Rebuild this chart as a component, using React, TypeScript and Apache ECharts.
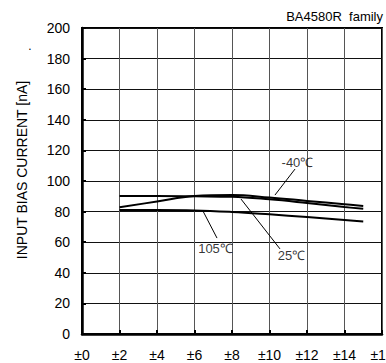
import React, { useEffect, useRef } from "react";
import * as echarts from "echarts";

const xTicks = [0, 2, 4, 6, 8, 10, 12, 14, 16];
const supplyV = [2, 4, 6, 8, 10, 12, 14, 15];
const minus40 = [82.8, 86.6, 90.2, 90.9, 89.2, 87.0, 84.8, 83.7];
const t25 = [90.2, 90.2, 90.0, 89.7, 88.0, 85.6, 83.0, 81.8];
const t105 = [81.0, 81.0, 80.8, 79.8, 78.2, 76.4, 74.5, 73.6];

const labelNames = ["-40℃", "105℃", "25℃"];
const labelPos = [
  [11.49, 111.8],
  [7.12, 55.6],
  [11.17, 51.6],
];
const leaders = [
  [[11.36, 107.8], [10.29, 90.8]],
  [[6.45, 80.4], [7.2, 62.7]],
  [[8.48, 88.2], [10.56, 55.6]],
];

const FONT = "'Liberation Sans', Arial, sans-serif";

export default function App() {
  const ref = useRef<HTMLDivElement>(null);
  useEffect(() => {
    if (!ref.current) return;
    const chart = echarts.init(ref.current, undefined, { renderer: "svg" });
    const curve = (name: string, vals: number[]) => ({
      name,
      type: "line",
      data: supplyV.map((x, i) => [x, vals[i]]),
      smooth: 0.4,
      showSymbol: false,
      symbol: "none",
      lineStyle: { color: "#000", width: 2 },
      silent: true,
      z: 5,
    });
    chart.setOption({
      animation: false,
      backgroundColor: "#fff",
      grid: {
        left: 82,
        right: 4,
        top: 28,
        bottom: 29,
        show: true,
        borderColor: "#000",
        borderWidth: 2,
        backgroundColor: "transparent",
        outerBoundsMode: "none",
        containLabel: false,
      },
      xAxis: {
        type: "value",
        min: 0,
        max: 16,
        interval: 2,
        axisLine: { show: true, lineStyle: { color: "#000", width: 2.5 } },
        axisTick: { show: true, inside: true, length: 4, lineStyle: { color: "#000", width: 2 } },
        splitLine: { show: true, lineStyle: { color: "#555", width: 1 } },
        axisLabel: {
          formatter: (v: number) => "±" + v,
          color: "#000",
          fontSize: 14,
          fontFamily: FONT,
          margin: 14,
          showMaxLabel: true,
          hideOverlap: false,
        },
      },
      yAxis: {
        type: "value",
        min: 0,
        max: 200,
        interval: 20,
        axisLine: { show: true, lineStyle: { color: "#000", width: 2.5 } },
        axisTick: { show: true, inside: true, length: 4, lineStyle: { color: "#000", width: 2 } },
        splitLine: { show: true, lineStyle: { color: "#111", width: 1 } },
        axisLabel: {
          color: "#000",
          fontSize: 14,
          fontFamily: FONT,
          margin: 12,
        },
      },
      series: [
        curve("-40℃", minus40),
        curve("25℃", t25),
        curve("105℃", t105),
        ...leaders.map((seg) => ({
          type: "line",
          data: seg,
          showSymbol: false,
          symbol: "none",
          lineStyle: { color: "#000", width: 1 },
          silent: true,
          z: 4,
        })),
        {
          type: "scatter",
          symbolSize: 0,
          data: labelPos.map((p, i) => [p[0], p[1], labelNames[i]]),
          label: {
            show: true,
            position: "inside",
            formatter: (p: any) => p.data[2],
            color: "#000",
            fontSize: 13,
            fontFamily: FONT,
          },
          silent: true,
          z: 6,
        },
      ],
      graphic: [
        {
          type: "text",
          right: 3,
          top: 10,
          style: {
            text: "BA4580R  family",
            fill: "#000",
            fontSize: 13,
            fontFamily: FONT,
          },
        },
        {
          type: "text",
          x: 22,
          y: 170,
          rotation: Math.PI / 2,
          style: {
            text: "INPUT BIAS CURRENT [nA]",
            fill: "#000",
            fontSize: 14,
            fontFamily: FONT,
            align: "center",
            verticalAlign: "middle",
          },
        },
        {
          type: "text",
          x: 30,
          y: 46,
          style: {
            text: ".",
            fill: "#000",
            fontSize: 12,
            fontFamily: FONT,
            align: "center",
            verticalAlign: "middle",
          },
        },
      ],
    });
    return () => chart.dispose();
  }, []);
  return <div ref={ref} style={{ width: 386, height: 363, position: "absolute", left: 0, top: 0 }} />;
}
